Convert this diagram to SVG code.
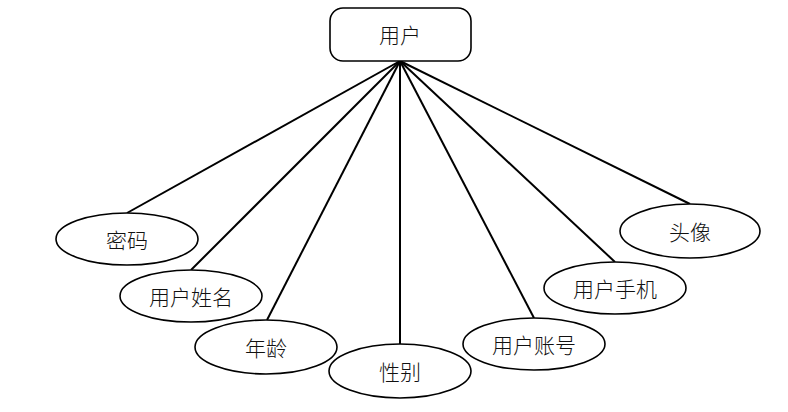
<svg xmlns="http://www.w3.org/2000/svg" width="788" height="412" viewBox="0 0 788 412">
<style>
.n{fill:#fff;stroke:#000;stroke-width:1.6}
.t{font-family:"Noto Sans CJK SC","Liberation Sans",sans-serif;font-size:21px;font-weight:300;fill:#111;text-anchor:middle;dominant-baseline:central}
.c line{stroke:#000;stroke-width:2}
</style>
<rect width="788" height="412" fill="#fff"/>
<g class="c" id="connectors">
<line x1="400" y1="61" x2="127" y2="213"/>
<line x1="400" y1="61" x2="191" y2="270"/>
<line x1="400" y1="61" x2="267" y2="320"/>
<line x1="400" y1="61" x2="400" y2="344"/>
<line x1="400" y1="61" x2="534" y2="318"/>
<line x1="400" y1="61" x2="615" y2="262"/>
<line x1="400" y1="61" x2="690" y2="204"/>
</g>
<g id="user"><rect class="n" x="330" y="8" width="141" height="53" rx="13"/><text class="t" x="400" y="34">用户</text></g>
<g id="pwd"><ellipse class="n" cx="127" cy="239" rx="71" ry="26"/><text class="t" x="127" y="239">密码</text></g>
<g id="name"><ellipse class="n" cx="191" cy="296" rx="71" ry="26"/><text class="t" x="191" y="296">用户姓名</text></g>
<g id="age"><ellipse class="n" cx="266" cy="347" rx="71" ry="27"/><text class="t" x="266" y="347">年龄</text></g>
<g id="sex"><ellipse class="n" cx="400" cy="371" rx="71" ry="27"/><text class="t" x="400" y="371">性别</text></g>
<g id="account"><ellipse class="n" cx="534" cy="344" rx="71" ry="26"/><text class="t" x="534" y="344">用户账号</text></g>
<g id="phone"><ellipse class="n" cx="615" cy="288" rx="71" ry="26"/><text class="t" x="615" y="288">用户手机</text></g>
<g id="avatar"><ellipse class="n" cx="690" cy="231" rx="70" ry="27"/><text class="t" x="690" y="231">头像</text></g>
</svg>
